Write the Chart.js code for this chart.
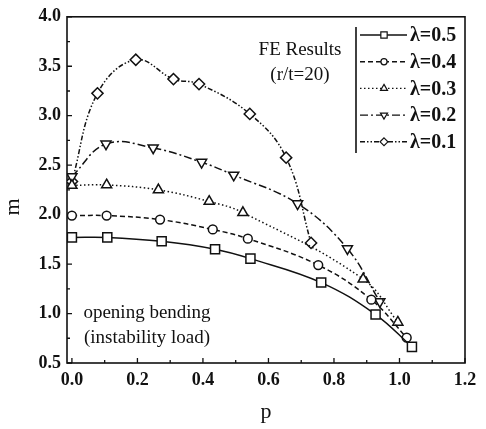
<!DOCTYPE html>
<html>
<head>
<meta charset="utf-8">
<script src="https://cdn.jsdelivr.net/npm/chart.js@4"></script>
<style>
  html, body { margin: 0; padding: 0; background: #fff; }
  #wrap { width: 486px; height: 429px; }
</style>
</head>
<body>
<div id="wrap"><canvas id="chart" width="486" height="429"></canvas></div>
<script>
// values
const p05 = [0, 0.108, 0.274, 0.437, 0.545, 0.761, 0.927, 1.038];
const m05 = [1.77, 1.77, 1.73, 1.65, 1.555, 1.313, 0.99, 0.663];

const p04 = [0, 0.106, 0.269, 0.43, 0.537, 0.752, 0.914, 1.022];
const m04 = [1.99, 1.99, 1.95, 1.85, 1.757, 1.49, 1.14, 0.756];

const p03 = [0, 0.106, 0.264, 0.419, 0.522, 0.889, 0.995];
const m03 = [2.295, 2.30, 2.25, 2.133, 2.02, 1.348, 0.912];

const p02 = [0, 0.104, 0.248, 0.396, 0.494, 0.689, 0.841, 0.94];
const m02 = [2.385, 2.715, 2.675, 2.53, 2.40, 2.11, 1.656, 1.12];

const p01 = [0, 0.078, 0.195, 0.31, 0.388, 0.543, 0.654, 0.73];
const m01 = [2.335, 3.226, 3.566, 3.37, 3.32, 3.018, 2.576, 1.714];

const seriesLabels = ['\u03bb=0.5', '\u03bb=0.4', '\u03bb=0.3', '\u03bb=0.2', '\u03bb=0.1'];

const xTicks = [0, 0.2, 0.4, 0.6, 0.8, 1.0, 1.2];
const xMinor = [0.1, 0.3, 0.5, 0.7, 0.9, 1.1];
const yTicks = [0.5, 1.0, 1.5, 2.0, 2.5, 3.0, 3.5, 4.0];
const yMinor = [0.75, 1.25, 1.75, 2.25, 2.75, 3.25, 3.75];

const pts = (xs, ys) => xs.map((x, i) => ({ x, y: ys[i] }));

const ink = '#111';
const styles = [
  { dash: [], shape: 'rect', radius: 6.4, rot: 0 },
  { dash: [5, 3], shape: 'circle', radius: 4.4, rot: 0 },
  { dash: [1.5, 2.5], shape: 'triangle', radius: 5.8, rot: 0 },
  { dash: [8, 3, 2, 3], shape: 'triangle', radius: 5.8, rot: 180 },
  { dash: [5, 2, 1.5, 2, 1.5, 2], shape: 'rectRot', radius: 5.6, rot: 0 }
];
const series = [pts(p05, m05), pts(p04, m04), pts(p03, m03), pts(p02, m02), pts(p01, m01)];

const datasets = series.map((d, i) => ({
  label: seriesLabels[i],
  data: d,
  borderColor: ink,
  borderWidth: 1.5,
  borderDash: styles[i].dash,
  tension: 0.4,
  pointStyle: styles[i].shape,
  pointRotation: styles[i].rot,
  pointRadius: styles[i].radius,
  pointBorderWidth: 1.5,
  pointBackgroundColor: '#fff',
  pointBorderColor: ink,
  fill: false
}));

function marker(ctx, shape, rot, r, x, y) {
  ctx.save();
  ctx.setLineDash([]);
  ctx.fillStyle = '#fff';
  ctx.beginPath();
  if (shape === 'circle') {
    ctx.arc(x, y, r, 0, Math.PI * 2);
  } else if (shape === 'rect') {
    const s = r * Math.SQRT1_2;
    ctx.rect(x - s, y - s, 2 * s, 2 * s);
  } else if (shape === 'rectRot') {
    ctx.moveTo(x, y - r); ctx.lineTo(x + r, y); ctx.lineTo(x, y + r); ctx.lineTo(x - r, y); ctx.closePath();
  } else {
    let a = rot * Math.PI / 180;
    for (let k = 0; k < 3; k++) {
      const px = x + Math.sin(a) * r, py = y - Math.cos(a) * r;
      k ? ctx.lineTo(px, py) : ctx.moveTo(px, py);
      a += Math.PI * 2 / 3;
    }
    ctx.closePath();
  }
  ctx.fill();
  ctx.stroke();
  ctx.restore();
}

const decor = {
  id: 'decor',
  beforeDatasetsDraw(chart) {
    const { ctx, chartArea: a, scales: { x, y } } = chart;
    ctx.save();
    ctx.strokeStyle = ink;
    ctx.lineWidth = 1.6;
    ctx.strokeRect(a.left, a.top, a.right - a.left, a.bottom - a.top);
    ctx.lineWidth = 1.3;
    ctx.beginPath();
    xTicks.forEach(v => { const px = x.getPixelForValue(v); ctx.moveTo(px, a.bottom); ctx.lineTo(px, a.bottom - 5); });
    xMinor.forEach(v => { const px = x.getPixelForValue(v); ctx.moveTo(px, a.bottom); ctx.lineTo(px, a.bottom - 3); });
    yTicks.forEach(v => { const py = y.getPixelForValue(v); ctx.moveTo(a.left, py); ctx.lineTo(a.left + 5, py); });
    yMinor.forEach(v => { const py = y.getPixelForValue(v); ctx.moveTo(a.left, py); ctx.lineTo(a.left + 3, py); });
    ctx.stroke();
    ctx.restore();
  },
  afterDraw(chart) {
    const { ctx } = chart;
    ctx.save();
    ctx.fillStyle = ink;
    ctx.strokeStyle = ink;

    // legend
    ctx.lineWidth = 1.6;
    ctx.beginPath();
    ctx.moveTo(356, 27); ctx.lineTo(356, 153);
    ctx.stroke();
    ctx.font = 'bold 20px "Liberation Serif"';
    ctx.textBaseline = 'middle';
    ctx.textAlign = 'left';
    seriesLabels.forEach((lab, i) => {
      const ly = 35 + i * 26.7;
      ctx.lineWidth = 1.4;
      ctx.setLineDash(styles[i].dash);
      ctx.beginPath();
      ctx.moveTo(360, ly); ctx.lineTo(407, ly);
      ctx.stroke();
      ctx.lineWidth = 1.2;
      marker(ctx, styles[i].shape, styles[i].rot, styles[i].radius * 0.7, 384, ly);
      ctx.fillText(lab, 410, ly + 1);
    });
    ctx.setLineDash([]);

    // notes
    ctx.font = '19px "Liberation Serif"';
    ctx.textAlign = 'center';
    ctx.fillText('FE Results', 300, 50);
    ctx.fillText('(r/t=20)', 300, 75);
    ctx.fillText('opening bending', 147, 313);
    ctx.fillText('(instability load)', 147, 338);

    // y title
    ctx.font = '22px "Liberation Serif"';
    ctx.translate(13, 207);
    ctx.rotate(-Math.PI / 2);
    ctx.fillText('m', 0, 0);
    ctx.restore();
  }
};

const tickFont = { family: '"Liberation Serif"', weight: 'bold', size: 18 };

new Chart(document.getElementById('chart'), {
  type: 'line',
  data: { datasets },
  plugins: [decor],
  options: {
    responsive: false,
    animation: false,
    devicePixelRatio: 1,
    layout: { padding: { top: 16, right: 21, left: 0, bottom: 0 } },
    plugins: { legend: { display: false }, tooltip: { enabled: false } },
    scales: {
      x: {
        type: 'linear',
        min: -0.015,
        max: 1.2,
        grid: { display: false, drawTicks: false },
        border: { display: false },
        afterBuildTicks: s => { s.ticks = xTicks.map(v => ({ value: v })); },
        afterFit: s => { s.height = 66; },
        ticks: { font: tickFont, color: ink, padding: 7, callback: v => v.toFixed(1) },
        title: { display: true, text: 'p', color: ink, font: { family: '"Liberation Serif"', size: 22 }, padding: { top: 8 } }
      },
      y: {
        type: 'linear',
        min: 0.5,
        max: 4.0,
        grid: { display: false, drawTicks: false },
        border: { display: false },
        afterBuildTicks: s => { s.ticks = yTicks.map(v => ({ value: v })); },
        afterFit: s => { s.width = 67; },
        ticks: { font: tickFont, color: ink, padding: 6, callback: v => v.toFixed(1) }
      }
    }
  }
});
</script>
</body>
</html>
